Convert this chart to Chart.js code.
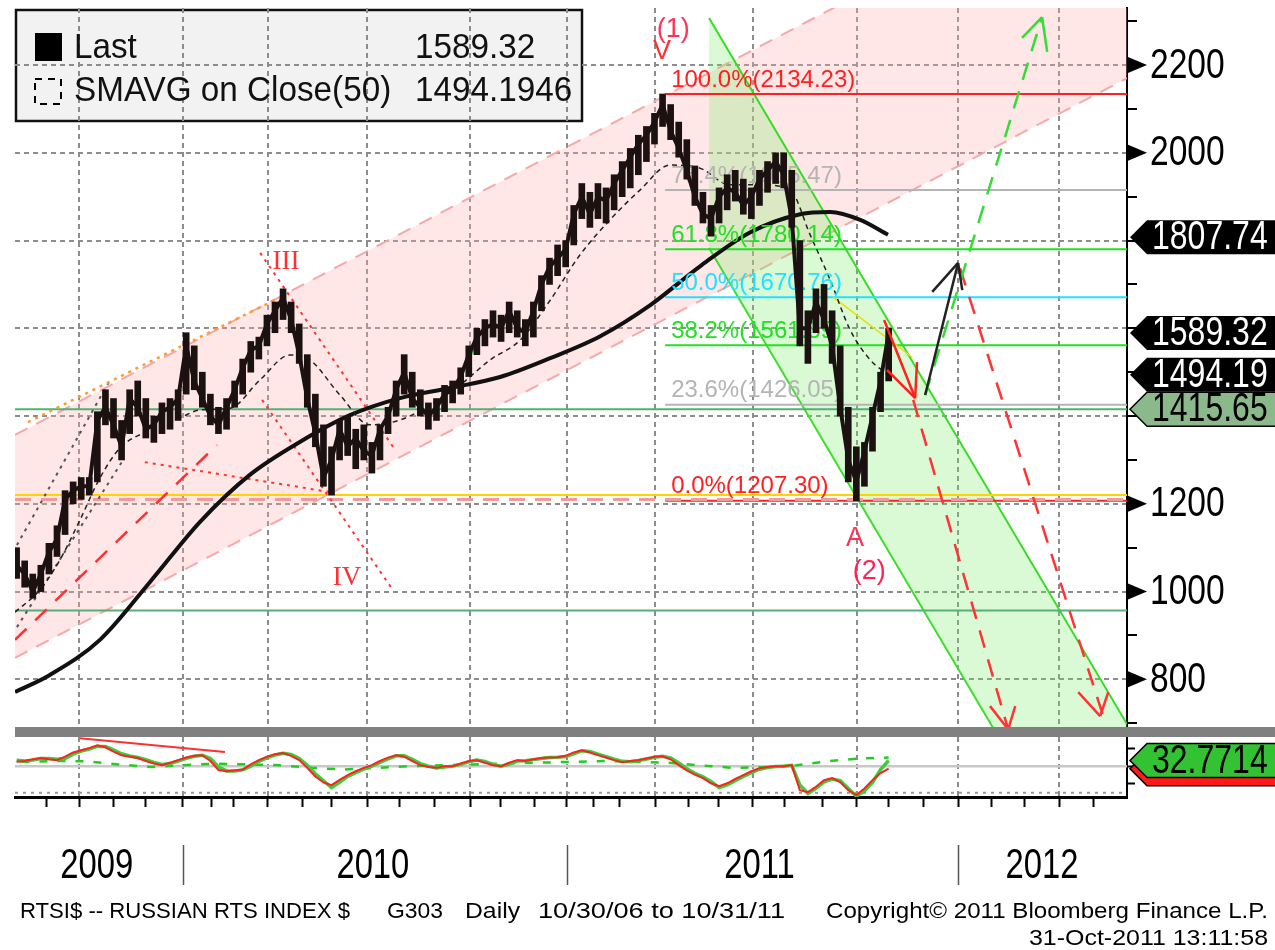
<!doctype html>
<html lang="en">
<head>
<meta charset="utf-8">
<title>RTSI$ -- Russian RTS Index $</title>
<style>
  * { margin: 0; padding: 0; }
  body { background: #fff; width: 1275px; height: 950px; overflow: hidden; position: relative; }
  #priceChart { position: absolute; left: 0; top: 0; width: 1275px; height: 737px; }
  #oscChart { position: absolute; left: 0; top: 737px; width: 1275px; height: 213px; }
</style>
</head>
<body>
<canvas id="priceChart" width="1275" height="737"></canvas>
<canvas id="oscChart" width="1275" height="213"></canvas>

<script src="https://cdn.jsdelivr.net/npm/chart.js"></script>
<script>
// ---- data (x = months counted from 1 Jan 2009 on the chart's trading-day axis) ----
const xMin = 6.8, xMax = 41.23;
const yMin = 691.4, yMax = 2330;

const quarterLines = [8.78, 12, 14.63, 17.7, 20.89, 23.89, 26.62, 29.65, 32.87, 36.0, 39.13];
const monthTicks = [7.76, 8.81, 9.86, 10.85, 12, 12.87, 13.55, 14.63, 15.69, 16.61, 17.7, 18.72, 19.8,
  20.89, 21.82, 22.9, 23.89, 24.7, 25.53, 26.62, 27.64, 28.57, 29.65, 30.64, 31.79, 32.87, 33.86,
  34.92, 36.0, 37.05, 38.05, 39.13, 40.18];
const yearNames = ['2009', '2010', '2011', '2012'];
const yearLabelAt = [9.33, 17.88, 29.85, 38.6];
const yearBounds = [12, 23.89, 36.0];
const priceTicks = [700, 800, 900, 1000, 1100, 1200, 1300, 1400, 1500, 1600, 1700, 1800, 1900, 2000, 2100, 2200, 2300];
const priceGrid = [800, 1000, 1200, 1400, 1600, 1800, 2000, 2200];
const priceLabels = [800, 1000, 1200, 2000, 2200];   // the others sit under the value badges

// weekly bars of RTSI$
const weekStart = 6.85, weekStep = 0.25;
const priceLow = [
  1030, 1010, 985, 1000, 1040, 1080, 1130, 1200, 1210, 1220,
  1250, 1380, 1350, 1300, 1360, 1400, 1350, 1340, 1360, 1370,
  1390, 1450, 1460, 1420, 1380, 1360, 1370, 1420, 1450, 1500,
  1530, 1560, 1590, 1620, 1590, 1520, 1420, 1330, 1240, 1220,
  1300, 1310, 1280, 1300, 1270, 1300, 1360, 1400, 1450, 1420,
  1400, 1370, 1390, 1410, 1430, 1450, 1490, 1540, 1560, 1580,
  1570, 1590, 1580, 1560, 1580, 1640, 1700, 1720, 1740, 1790,
  1850, 1830, 1850, 1840, 1870, 1900, 1920, 1950, 1980, 2020,
  2060, 2030, 1990, 1940, 1880, 1840, 1810, 1840, 1870, 1890,
  1860, 1850, 1880, 1910, 1930, 1920, 1830, 1560, 1520, 1590,
  1600, 1520, 1400, 1250, 1207, 1240, 1320, 1410, 1480];
const priceHigh = [
  1100, 1070, 1040, 1060, 1110, 1150, 1230, 1250, 1260, 1260,
  1410, 1460, 1440, 1390, 1460, 1480, 1440, 1400, 1430, 1440,
  1460, 1590, 1560, 1500, 1450, 1420, 1440, 1480, 1530, 1570,
  1580, 1630, 1660, 1690, 1660, 1610, 1540, 1450, 1380, 1330,
  1390, 1400, 1370, 1380, 1340, 1380, 1420, 1480, 1540, 1500,
  1460, 1430, 1440, 1470, 1480, 1510, 1560, 1600, 1620, 1640,
  1630, 1660, 1640, 1620, 1660, 1720, 1760, 1790, 1800, 1880,
  1930, 1910, 1930, 1920, 1950, 1980, 2010, 2040, 2060, 2090,
  2134, 2110, 2070, 2030, 1970, 1910, 1880, 1920, 1950, 1960,
  1940, 1920, 1960, 1980, 2000, 2000, 1960, 1800, 1640, 1690,
  1700, 1640, 1560, 1420, 1330, 1340, 1420, 1500, 1600];
const priceClose = [
  1060, 1040, 1000, 1040, 1090, 1120, 1210, 1230, 1240, 1240,
  1390, 1420, 1380, 1330, 1440, 1420, 1370, 1380, 1410, 1420,
  1440, 1560, 1480, 1440, 1400, 1380, 1420, 1460, 1510, 1550,
  1560, 1610, 1640, 1670, 1620, 1540, 1440, 1360, 1260, 1300,
  1370, 1330, 1350, 1320, 1310, 1370, 1400, 1460, 1500, 1440,
  1420, 1400, 1420, 1450, 1460, 1490, 1540, 1580, 1600, 1610,
  1600, 1640, 1600, 1590, 1640, 1700, 1740, 1760, 1780, 1860,
  1900, 1860, 1900, 1890, 1930, 1960, 1990, 2020, 2040, 2070,
  2110, 2050, 2010, 1960, 1900, 1860, 1850, 1900, 1920, 1910,
  1880, 1900, 1940, 1960, 1980, 1950, 1850, 1600, 1600, 1660,
  1620, 1560, 1420, 1300, 1250, 1320, 1400, 1480, 1589.32];

// long moving average (thick black) and SMAVG(50) (thin dashed)
const longMaX = [6.8, 7.88, 9.43, 10.98, 12.53, 14.07, 15.62, 17.17, 18.72, 20.27, 21.82, 23.37, 24.92, 26.47, 28.02, 29.57, 31.11, 32.04, 32.97, 33.83];
const longMaY = [771, 810, 890, 1022, 1159, 1266, 1341, 1402, 1441, 1464, 1489, 1532, 1582, 1653, 1742, 1819, 1860, 1865, 1847, 1813];
const sma50X = [6.8, 7.57, 8.19, 8.81, 9.43, 10.05, 10.98, 11.91, 12.53, 13.46, 14.38, 15.31, 15.93, 16.86, 17.79, 18.72, 19.65,
  20.58, 21.51, 22.44, 23.37, 24.29, 25.22, 26.15, 27.08, 28.01, 28.94, 29.87, 30.8, 31.42, 32.04, 32.66, 33.28, 33.83];
const sma50Y = [953, 1004, 1072, 1163, 1259, 1327, 1368, 1396, 1414, 1418, 1482, 1539, 1528, 1448, 1380, 1391, 1425,
  1471, 1528, 1573, 1664, 1767, 1847, 1915, 1972, 1965, 1927, 1927, 1915, 1813, 1710, 1596, 1528, 1494.19];

// channels
const pinkX = [6.8, 41.23], pinkUpper = [1357, 2679], pinkLower = [849, 2170];
const greenX = [28.29, 41.23], greenUpper = [2307, 698], greenLower = [1783, 174];

// horizontal levels
const yellowLevel = 1220, pinkDashLevel = 1210, greenLevels = [1415.65, 957];

// fibonacci retracement
const fibStartX = 26.93;
const fibNames = ['100.0%', '76.4%', '61.8%', '50.0%', '38.2%', '23.6%', '0.0%'];
const fibLevels = [2134.23, 1915.47, 1780.14, 1670.76, 1561.39, 1426.05, 1207.30];

// hand drawn trend lines / arrows : [x1, y1, x2, y2]
const redTrend = [6.8, 890, 13.05, 1334];
const orangeTrend = [7.2, 1386, 15.16, 1676];
const blackDots = [[6.86, 1106, 9.74, 1482], [6.86, 919, 10.14, 1299]];
const redDots = [[14.39, 1772, 18.57, 1323], [14.45, 1437, 18.44, 1010], [10.82, 1295, 16.55, 1227]];
const greenStub = [20.58, 1489, 21.17, 1580];
const yellowStub = [32.13, 1671, 34.58, 1534];
const redArrow = [[33.71, 1619, 34.67, 1441], [33.8, 1505, 34.67, 1441], [34.73, 1523, 34.67, 1441]];
const blackArrow = [[34.98, 1448, 36.0, 1749], [35.2, 1683, 36.0, 1749], [36.13, 1687, 36.0, 1749]];
const greenDashArrow = [[34.98, 1448, 38.6, 2309], [37.98, 2262, 38.6, 2309], [38.76, 2230, 38.6, 2309]];
const redDashArrows = [[34.61, 1437, 37.55, 686], [36.99, 739, 37.55, 686], [37.77, 739, 37.55, 686],
  [36.06, 1737, 40.55, 703], [39.72, 771, 40.4, 716], [40.65, 771, 40.4, 716]];

// wave labels
const waveText = ['(1)', 'V', 'III', 'IV', 'A', '(2)'];
const waveX = [27.18, 26.83, 15.19, 17.08, 32.81, 33.25];
const waveY = [2280, 2230, 1751, 1031, 1122, 1045];

const badgeValues = [1807.74, 1589.32, 1494.19, 1415.65];
const lastValue = '1589.32', smaValue = '1494.1946';

// oscillator (CMCI-like)
const oscRed = [
  25, 30, 40, 47, 40, 35, 55, 80, 93, 105,
  122, 110, 85, 64, 55, 47, 30, 15, 6, 20,
  35, 50, 60, 64, 30, -23, -30, -25, -20, 10,
  35, 55, 70, 76, 60, 35, -10, -60, -95, -111,
  -80, -52, -30, -10, 6, 30, 50, 64, 55, 30,
  6, -5, -10, 0, 0, 15, 30, 35, 20, 5,
  0, 20, 35, 30, 40, 47, 50, 52, 60, 80,
  93, 80, 64, 50, 35, 23, 30, 35, 45, 55,
  58, 40, 6, -25, -50, -70, -100, -117, -100, -75,
  -52, -30, -12, -5, 0, 0, 6, -140, -152, -120,
  -82, -70, -93, -140, -169, -130, -82, -40, -15];
const oscGreen = [
  35, 30, 35, 45, 45, 40, 45, 70, 88, 100,
  115, 115, 95, 72, 60, 50, 38, 22, 10, 15,
  30, 45, 58, 64, 45, -5, -28, -28, -22, 0,
  28, 48, 65, 75, 68, 45, 5, -45, -85, -125,
  -95, -60, -38, -18, 0, 22, 42, 60, 60, 40,
  15, 0, -10, -5, 0, 10, 25, 35, 28, 10,
  0, 12, 30, 32, 38, 45, 50, 52, 56, 72,
  90, 85, 70, 55, 40, 28, 26, 33, 42, 52,
  58, 48, 18, -15, -42, -62, -90, -125, -110, -85,
  -60, -38, -18, -8, -2, 0, 5, -110, -160, -130,
  -92, -75, -85, -130, -175, -145, -95, -20, 32.77];
const oscSlowX = [7, 8, 9, 10, 11, 12, 13, 14, 15, 16, 17, 18, 19, 20, 21, 22, 23, 24, 25, 26, 27, 28, 29, 30, 31, 32, 33, 33.85];
const oscSlow = [25, 30, 28, 10, -5, 5, 15, 10, 5, -10, -20, -10, 0, 5, 10, 15, 20, 25, 30, 25, 20, 5, -10, -5, 5, 30, 45, 50];
const oscTrend = [8.81, 163, 13.3, 82];
const oscLast = { red: -15, green: 32.77, text: '32.7714' };

// ---- helpers ----
const SANS = '"Liberation Sans", Arial, sans-serif';
const SERIF = '"Liberation Serif", "DejaVu Serif", serif';
const weekX = priceLow.map((_, i) => weekStart + i * weekStep);

function pts(xs, ys) { return xs.map((x, i) => ({ x: x, y: ys[i] })); }
function seg(s) { return [{ x: s[0], y: s[1] }, { x: s[2], y: s[3] }]; }
function line(data, color, width, dash, order, extra) {
  return Object.assign({ type: 'line', data: data, borderColor: color, borderWidth: width, borderDash: dash || [],
    pointRadius: 0, fill: false, tension: 0, order: order }, extra || {});
}
function flat(v) { return [{ x: xMin, y: v }, { x: xMax, y: v }]; }
function noPad(s) { s.paddingTop = 0; s.paddingBottom = 0; s.paddingLeft = 0; s.paddingRight = 0; }

// text squeezed horizontally (the Bloomberg screen font is narrow)
function narrowText(ctx, text, x, y, size, sx, align, color) {
  ctx.save();
  ctx.font = size + 'px ' + SANS;
  ctx.fillStyle = color;
  ctx.textBaseline = 'middle';
  const w = ctx.measureText(text).width;
  const ox = align === 'right' ? -w : align === 'center' ? -w / 2 : 0;
  ctx.translate(x, y);
  ctx.scale(sx, 1);
  ctx.fillText(text, ox, 0);
  ctx.restore();
}
// text stretched to a given width
function fitText(ctx, text, x, y, size, width, color) {
  ctx.save();
  ctx.font = size + 'px ' + SANS;
  ctx.fillStyle = color;
  ctx.textBaseline = 'alphabetic';
  const w = ctx.measureText(text).width;
  ctx.translate(x, y);
  ctx.scale(width / w, 1);
  ctx.fillText(text, 0, 0);
  ctx.restore();
}

function drawBadge(ctx, tipX, y, text, bg, fg, edge) {
  const body = tipX + 17, right = 1290, h = 17;
  ctx.save();
  ctx.beginPath();
  ctx.moveTo(tipX, y);
  ctx.lineTo(body, y - h);
  ctx.lineTo(right, y - h);
  ctx.lineTo(right, y + h);
  ctx.lineTo(body, y + h);
  ctx.closePath();
  ctx.fillStyle = bg;
  ctx.fill();
  if (edge) { ctx.strokeStyle = edge; ctx.lineWidth = 1.5; ctx.stroke(); }
  ctx.restore();
  if (text) narrowText(ctx, text, body + 5, y + 1, 40, 0.8, 'left', fg);
}

// ---- price panel decorations ----
const fibColors = ['#ff2020', '#b4b4b4', '#22e022', '#22e0ff', '#22e022', '#b4b4b4', '#ff2020'];
const waveColors = ['#ff3355', '#ff3030', '#ff3030', '#ff3030', '#ff3355', '#ff2255'];
const waveFonts = [SANS, SANS, SERIF, SERIF, SANS, SANS];

const priceDecor = {
  id: 'priceDecor',
  beforeDraw(chart) {
    const ctx = chart.ctx;
    ctx.save();
    ctx.fillStyle = '#ffffff';
    ctx.fillRect(0, 0, chart.width, chart.height);
    ctx.fillStyle = '#f2f2f2';
    ctx.fillRect(15, 9, 568, 113);
    ctx.lineWidth = 2.5;
    ctx.strokeStyle = '#111';
    ctx.strokeRect(16, 10, 566, 111);
    ctx.restore();
  },
  beforeDatasetDraw(chart, args) {
    if (args.meta.type !== 'bar') return;
    const ctx = chart.ctx, xs = chart.scales.x, ys = chart.scales.y;
    const x0 = xs.getPixelForValue(fibStartX) + 6;
    ctx.save();
    ctx.font = '24px ' + SANS;
    ctx.textBaseline = 'bottom';
    fibLevels.forEach((lv, i) => {
      ctx.fillStyle = fibColors[i];
      ctx.fillText(fibNames[i] + '(' + lv.toFixed(2) + ')', x0, ys.getPixelForValue(lv) - 2);
    });
    ctx.restore();
  },
  afterDatasetsDraw(chart) {
    const ctx = chart.ctx, xs = chart.scales.x, ys = chart.scales.y;
    ctx.save();
    ctx.textAlign = 'center';
    ctx.textBaseline = 'middle';
    waveText.forEach((t, i) => {
      ctx.font = '27px ' + waveFonts[i];
      ctx.fillStyle = waveColors[i];
      ctx.fillText(t, xs.getPixelForValue(waveX[i]), ys.getPixelForValue(waveY[i]));
    });
    ctx.restore();
  },
  afterDraw(chart) {
    const ctx = chart.ctx, ys = chart.scales.y, area = chart.chartArea;
    // axis arrows and labels
    ctx.save();
    ctx.fillStyle = '#000';
    priceLabels.forEach(v => {
      const y = ys.getPixelForValue(v);
      ctx.beginPath();
      ctx.moveTo(area.right + 1, y - 8);
      ctx.lineTo(area.right + 20, y);
      ctx.lineTo(area.right + 1, y + 8);
      ctx.closePath();
      ctx.fill();
    });
    ctx.restore();
    priceLabels.forEach(v => narrowText(ctx, String(v), area.right + 23, ys.getPixelForValue(v) + 1, 42, 0.8, 'left', '#000'));
    // value badges
    badgeValues.forEach((v, i) => {
      const last = i === badgeValues.length - 1;
      drawBadge(ctx, area.right + 3, ys.getPixelForValue(v), v.toFixed(2),
        last ? '#8cb98c' : '#000', last ? '#000' : '#fff', last ? '#000' : null);
    });
    // legend content
    ctx.save();
    ctx.fillStyle = '#000';
    ctx.fillRect(35, 33, 27, 28);
    ctx.setLineDash([7, 6]);
    ctx.lineWidth = 2;
    ctx.strokeStyle = '#000';
    ctx.strokeRect(35, 79, 26, 25);
    ctx.restore();
    narrowText(ctx, 'Last', 74, 48, 35, 0.95, 'left', '#111');
    narrowText(ctx, lastValue, 415, 48, 35, 0.95, 'left', '#111');
    narrowText(ctx, 'SMAVG on Close(50)', 74, 91, 35, 0.95, 'left', '#111');
    narrowText(ctx, smaValue, 415, 91, 35, 0.95, 'left', '#111');
    // panel separator
    ctx.save();
    ctx.fillStyle = '#808080';
    ctx.fillRect(area.left, area.bottom, chart.width - area.left, 10);
    ctx.restore();
  }
};

const gridDash = [5, 4];

new Chart(document.getElementById('priceChart'), {
  type: 'line',
  data: {
    datasets: [
      line(pts(pinkX, pinkUpper), '#f6a8a8', 2, [14, 10], 40, { fill: '+1', backgroundColor: 'rgba(255,175,175,0.30)' }),
      line(pts(pinkX, pinkLower), '#f6a8a8', 2, [14, 10], 40),
      line(pts(greenX, greenUpper), '#33dd22', 2, [], 39, { fill: '+1', backgroundColor: 'rgba(120,235,100,0.27)' }),
      line(pts(greenX, greenLower), '#33dd22', 2, [], 39),
      line(flat(yellowLevel), '#ffd200', 2, [], 30),
      line(flat(greenLevels[0]), '#55b075', 2, [], 30),
      line(flat(greenLevels[1]), '#55b075', 2, [], 30),
      ...fibLevels.map((lv, i) => line([{ x: fibStartX, y: lv }, { x: xMax, y: lv }], fibColors[i], 2, [], 29)),
      line(flat(pinkDashLevel), '#f09a9a', 3, [16, 10], 28),
      line(seg(redTrend), '#ff3030', 2.5, [16, 12], 25),
      line(seg(orangeTrend), '#ff9a30', 2.5, [3, 5], 25),
      ...blackDots.map(s => line(seg(s), '#555', 2, [3, 5], 25)),
      ...redDots.map(s => line(seg(s), '#ff3333', 2, [3, 5], 25)),
      line(seg(greenStub), '#33cc33', 2.5, [], 25),
      line(seg(yellowStub), '#e8e000', 1.5, [], 25),
      line(pts(longMaX, longMaY), '#111', 4, [], 20, { cubicInterpolationMode: 'monotone' }),
      line(pts(sma50X, sma50Y), '#222', 1.5, [5, 4], 19, { cubicInterpolationMode: 'monotone' }),
      {
        type: 'bar',
        data: priceLow.map((lo, i) => ({ x: weekX[i], y: [lo, priceHigh[i]] })),
        backgroundColor: '#1c1111',
        barThickness: 6,
        order: 10
      },
      line(pts(weekX, priceClose), '#1c1111', 4, [], 9),
      ...redArrow.map(s => line(seg(s), '#ff2020', 2.5, [], 5)),
      ...blackArrow.map(s => line(seg(s), '#222', 2.5, [], 5)),
      ...greenDashArrow.map((s, i) => line(seg(s), '#33dd33', 2.5, i === 0 ? [18, 12] : [], 5)),
      ...redDashArrows.map((s, i) => line(seg(s), '#ff3333', 2.5, (i % 3 === 0) ? [18, 12] : [], 5))
    ]
  },
  options: {
    responsive: false,
    maintainAspectRatio: false,
    animation: false,
    events: [],
    layout: { padding: { left: 15, top: 8, right: 0, bottom: 10 } },
    plugins: { legend: { display: false }, tooltip: { enabled: false } },
    scales: {
      x: {
        type: 'linear', position: 'bottom', min: xMin, max: xMax, offset: false,
        afterBuildTicks: s => { s.ticks = quarterLines.map(v => ({ value: v })); },
        afterFit: s => { s.height = 0; noPad(s); },
        ticks: { display: false },
        grid: { color: '#8c8c8c', lineWidth: 2, drawTicks: false, offset: false },
        border: { display: false, dash: gridDash }
      },
      y: {
        position: 'right', min: yMin, max: yMax, beginAtZero: false,
        afterBuildTicks: s => { s.ticks = priceTicks.map(v => ({ value: v })); },
        afterFit: s => { s.width = 148; noPad(s); },
        ticks: { display: false, autoSkip: false },
        grid: {
          color: c => (c.tick && priceGrid.includes(c.tick.value)) ? '#8c8c8c' : 'rgba(0,0,0,0)',
          lineWidth: 2, tickColor: '#000', tickLength: 10, tickWidth: 2
        },
        border: { display: true, color: '#000', width: 2, dash: gridDash }
      }
    }
  },
  plugins: [priceDecor]
});

// ---- oscillator panel + time axis ----
const oscDecor = {
  id: 'oscDecor',
  beforeDraw(chart) {
    const ctx = chart.ctx;
    ctx.save();
    ctx.fillStyle = '#ffffff';
    ctx.fillRect(0, 0, chart.width, chart.height);
    ctx.restore();
  },
  afterDraw(chart) {
    const ctx = chart.ctx, ys = chart.scales.y, xs = chart.scales.x, area = chart.chartArea;
    drawBadge(ctx, area.right + 3, ys.getPixelForValue(oscLast.red), '', '#ff1a1a', '#000', '#000');
    drawBadge(ctx, area.right + 3, ys.getPixelForValue(oscLast.green), oscLast.text, '#33c233', '#000', '#000');
    // year labels and separators
    yearNames.forEach((t, i) => narrowText(ctx, t, xs.getPixelForValue(yearLabelAt[i]), 129, 42, 0.78, 'center', '#000'));
    ctx.save();
    ctx.strokeStyle = '#555';
    ctx.lineWidth = 1.5;
    yearBounds.forEach(b => {
      const x = Math.round(xs.getPixelForValue(b)) + 0.5;
      ctx.beginPath();
      ctx.moveTo(x, 108);
      ctx.lineTo(x, 148);
      ctx.stroke();
    });
    ctx.restore();
    // footer
    fitText(ctx, 'RTSI$ -- RUSSIAN RTS INDEX $', 20, 181, 22, 330, '#000');
    fitText(ctx, 'G303', 387, 181, 22, 56, '#000');
    fitText(ctx, 'Daily', 465, 181, 22, 55, '#000');
    fitText(ctx, '10/30/06 to 10/31/11', 538, 181, 22, 247, '#000');
    fitText(ctx, 'Copyright\u00a9 2011 Bloomberg Finance L.P.', 826, 181, 22, 442, '#000');
    fitText(ctx, '31-Oct-2011 13:11:58', 1029, 208, 22, 239, '#000');
  }
};

new Chart(document.getElementById('oscChart'), {
  type: 'line',
  data: {
    datasets: [
      line(flat(0), '#c8c8c8', 2.5, [], 30),
      line(flat(-155), '#999', 2, [3, 5], 30),
      line(pts(oscSlowX, oscSlow), '#22cc22', 2.5, [8, 10], 20),
      line(pts(weekX, oscGreen), '#3ccc3c', 3.5, [], 15),
      line(pts(weekX, oscRed), '#ff2020', 2, [], 10),
      line(seg(oscTrend), '#ff3030', 2, [], 5)
    ]
  },
  options: {
    responsive: false,
    maintainAspectRatio: false,
    animation: false,
    events: [],
    layout: { padding: { left: 15, top: 0, right: 0, bottom: 141 } },
    plugins: { legend: { display: false }, tooltip: { enabled: false } },
    scales: {
      x: {
        type: 'linear', position: 'bottom', weight: 0, min: xMin, max: xMax, offset: false,
        afterBuildTicks: s => { s.ticks = quarterLines.map(v => ({ value: v })); },
        afterFit: s => { s.height = 0; noPad(s); },
        ticks: { display: false },
        grid: { color: '#8c8c8c', lineWidth: 2, drawTicks: false },
        border: { display: false, dash: gridDash }
      },
      xMonth: {
        type: 'linear', position: 'bottom', weight: 1, min: xMin, max: xMax, offset: false,
        afterBuildTicks: s => { s.ticks = monthTicks.map(v => ({ value: v })); },
        afterFit: s => { s.height = 12; noPad(s); },
        ticks: { display: false },
        grid: { drawOnChartArea: false, drawTicks: true, tickLength: 10, tickWidth: 2, tickColor: '#000' },
        border: { display: true, color: '#000', width: 3 }
      },
      y: {
        position: 'right', min: -180, max: 170,
        afterBuildTicks: s => { s.ticks = [-100, 0, 100].map(v => ({ value: v })); },
        afterFit: s => { s.width = 148; noPad(s); },
        ticks: { display: false },
        grid: { drawOnChartArea: false, tickLength: 8, tickWidth: 2, tickColor: '#000' },
        border: { display: true, color: '#000', width: 2 }
      }
    }
  },
  plugins: [oscDecor]
});
</script>
</body>
</html>
